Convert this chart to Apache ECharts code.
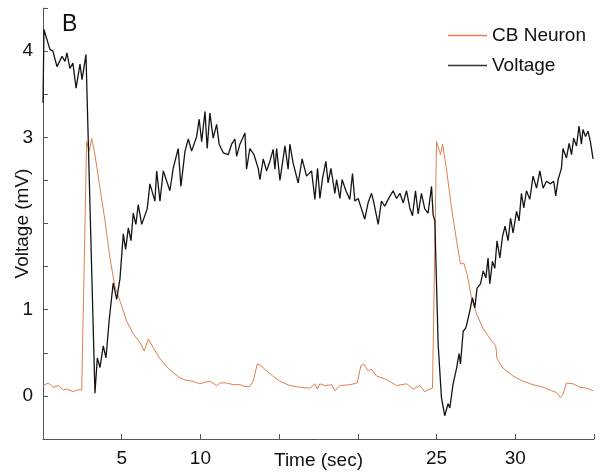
<!DOCTYPE html>
<html>
<head>
<meta charset="utf-8">
<script src="https://cdn.jsdelivr.net/npm/echarts@6/dist/echarts.min.js"></script>
<style>html,body{margin:0;padding:0;background:#fff}#c{width:602px;height:475px}</style>
</head>
<body>
<div id="c"></div>
<script>
// Tick labels shown on axes
const xTickLabels = [5, 10, 25, 30];
const yTickLabels = [0, 1, 3, 4];
const seriesNames = ['CB Neuron', 'Voltage'];

// CB Neuron trace (time in s, value)
const cbTime = [0.02,0.34,0.65,0.97,1.29,1.50,1.92,2.22,2.46,2.77,2.94,3.09,3.30,3.62,3.94,4.25,4.57,4.89,5.31,5.73,6.16,6.43,6.69,7.00,7.43,7.85,8.27,8.70,9.12,9.52,9.97,10.29,10.60,11.03,11.24,11.66,12.08,12.51,12.83,13.14,13.35,13.61,13.78,14.20,14.60,15.05,15.68,16.32,16.95,17.27,17.42,17.59,17.90,18.33,18.54,18.86,19.49,19.96,20.19,20.38,20.65,20.87,21.19,21.82,22.46,23.09,23.51,23.94,24.25,24.57,24.74,25.00,25.25,25.38,25.63,25.95,26.27,26.52,26.73,26.94,27.22,27.54,27.96,28.49,28.76,28.84,29.23,29.86,30.50,31.13,31.77,32.30,32.62,32.87,33.03,33.25,33.67,34.10,34.52,34.94];
const cbValues = [0.12,0.15,0.10,0.12,0.07,0.08,0.05,0.07,0.07,2.95,2.84,2.99,2.80,2.41,2.03,1.60,1.27,1.10,0.87,0.72,0.62,0.52,0.66,0.56,0.43,0.34,0.27,0.21,0.18,0.17,0.14,0.16,0.17,0.12,0.15,0.15,0.13,0.13,0.11,0.11,0.17,0.37,0.36,0.29,0.23,0.17,0.12,0.10,0.09,0.14,0.08,0.14,0.12,0.13,0.06,0.12,0.13,0.15,0.35,0.37,0.29,0.31,0.23,0.19,0.12,0.14,0.08,0.12,0.05,0.08,0.09,2.95,2.80,2.92,2.63,2.18,1.80,1.53,1.54,1.41,1.14,0.95,0.78,0.64,0.58,0.43,0.32,0.23,0.17,0.13,0.10,0.06,0.04,-0.02,0.02,0.15,0.14,0.10,0.09,0.06];

// Voltage trace (time in s, value)
const voltTime = [0.00,0.06,0.44,0.63,0.89,1.21,1.40,1.52,1.71,1.90,2.10,2.35,2.48,2.73,3.30,3.45,3.62,3.83,4.00,4.21,4.46,4.68,4.89,5.10,5.25,5.42,5.59,5.73,5.90,6.05,6.27,6.62,6.79,7.11,7.22,7.43,7.64,8.06,8.27,8.59,8.76,9.02,9.23,9.44,9.76,9.92,10.08,10.29,10.43,10.60,10.81,11.03,11.19,11.45,11.77,11.98,12.19,12.30,12.51,12.83,12.93,13.14,13.40,13.67,13.78,13.99,14.20,14.41,14.62,14.73,14.84,15.05,15.37,15.57,15.68,15.89,16.21,16.46,16.74,17.06,17.27,17.44,17.59,17.76,17.97,18.11,18.29,18.54,18.65,18.86,19.00,19.24,19.49,19.66,19.81,20.02,20.23,20.44,20.65,20.87,21.02,21.29,21.50,21.71,21.92,22.24,22.46,22.67,22.88,23.09,23.30,23.47,23.66,23.83,24.04,24.25,24.46,24.68,24.78,24.89,25.10,25.31,25.52,25.73,25.84,26.05,26.27,26.43,26.52,26.69,26.86,27.07,27.28,27.43,27.57,27.79,27.96,28.13,28.27,28.38,28.55,28.70,28.84,29.02,29.19,29.35,29.54,29.70,29.86,30.08,30.24,30.39,30.54,30.71,30.92,31.13,31.35,31.56,31.77,31.98,32.23,32.44,32.57,32.72,32.93,33.03,33.25,33.42,33.57,33.71,33.89,34.05,34.20,34.30,34.46,34.62,34.77,34.94];
const voltValues = [3.40,4.25,4.02,4.00,3.82,3.94,3.88,3.98,3.80,3.86,3.57,3.85,3.67,3.96,0.03,0.44,0.33,0.58,0.44,0.89,1.31,1.12,1.36,1.88,1.70,1.95,1.80,2.12,1.99,2.22,1.99,2.17,2.46,2.26,2.61,2.26,2.61,2.38,2.64,2.87,2.43,2.84,2.98,2.84,3.01,3.21,2.95,3.30,2.87,3.28,2.99,3.15,2.92,2.82,2.80,2.92,2.98,2.78,2.92,3.05,2.63,2.87,2.80,2.64,2.51,2.75,2.61,2.72,2.86,2.63,2.87,2.50,2.90,2.63,2.92,2.70,2.47,2.75,2.55,2.61,2.28,2.64,2.29,2.53,2.72,2.47,2.64,2.35,2.51,2.29,2.51,2.38,2.28,2.58,2.26,2.29,2.17,2.05,2.24,2.35,2.24,1.99,2.26,2.20,2.28,2.38,2.29,2.35,2.24,2.38,2.18,2.09,2.38,2.11,2.35,2.17,2.12,2.43,2.10,2.03,0.60,-0.02,-0.23,-0.09,-0.14,0.14,0.32,0.49,0.37,0.75,0.79,0.95,1.14,1.02,1.25,1.30,1.45,1.37,1.60,1.30,1.56,1.48,1.80,1.60,1.85,1.97,1.80,2.06,1.89,2.14,2.03,2.35,2.18,2.38,2.28,2.55,2.41,2.61,2.41,2.49,2.46,2.49,2.32,2.51,2.64,2.87,2.76,2.93,2.80,2.99,2.90,3.13,2.92,3.09,3.01,3.07,2.95,2.75];

const pair = (ts, vs) => ts.map((t, i) => [t, vs[i]]);
const font = 'Liberation Sans, Arial, sans-serif';

const chart = echarts.init(document.getElementById('c'));
chart.setOption({
  animation: false,
  backgroundColor: '#fff',
  grid: { left: 43, right: 8, top: 8, bottom: 36, containLabel: false, outerBoundsMode: 'none' },
  graphic: [{ type: 'text', left: 62, top: 13, style: { text: 'B', font: '23px ' + font, fill: '#111' } }],
  legend: {
    orient: 'vertical', left: 443, top: 21, itemGap: 11, itemWidth: 39, itemHeight: 1.5, icon: 'rect',
    textStyle: { fontFamily: font, fontSize: 19, color: '#111', lineHeight: 19 },
    data: seriesNames
  },
  xAxis: {
    type: 'value', min: 0, max: 35, interval: 5,
    name: 'Time (sec)', nameLocation: 'middle', nameGap: 12, nameMoveOverlap: false,
    nameTextStyle: { fontFamily: font, fontSize: 19, color: '#111', verticalAlign: 'top' },
    axisLine: { onZero: false, lineStyle: { color: '#555', width: 1 } },
    axisTick: { inside: true, length: 5, lineStyle: { color: '#555' } },
    axisLabel: { margin: 10, fontFamily: font, fontSize: 19, color: '#111',
      formatter: v => xTickLabels.includes(v) ? String(v) : '' },
    splitLine: { show: false }
  },
  yAxis: {
    type: 'value', min: -0.5, max: 4.5, interval: 0.5,
    name: 'Voltage (mV)', nameLocation: 'middle', nameGap: 11, nameRotate: 90, nameMoveOverlap: false,
    nameTextStyle: { fontFamily: font, fontSize: 19, color: '#111', verticalAlign: 'bottom' },
    axisLine: { show: true, onZero: false, lineStyle: { color: '#555', width: 1 } },
    axisTick: { show: true, inside: true, length: 5, lineStyle: { color: '#555' } },
    axisLabel: { margin: 10, fontFamily: font, fontSize: 19, color: '#111',
      formatter: v => yTickLabels.includes(v) ? String(v) : '' },
    splitLine: { show: false }
  },
  series: [
    { name: seriesNames[0], type: 'line', showSymbol: false, symbol: 'none', data: pair(cbTime, cbValues),
      lineStyle: { color: '#e0804f', width: 1 }, itemStyle: { color: '#e0804f' } },
    { name: seriesNames[1], type: 'line', showSymbol: false, symbol: 'none', data: pair(voltTime, voltValues),
      lineStyle: { color: '#151515', width: 1.3 }, itemStyle: { color: '#333' } }
  ]
});
</script>
</body>
</html>
